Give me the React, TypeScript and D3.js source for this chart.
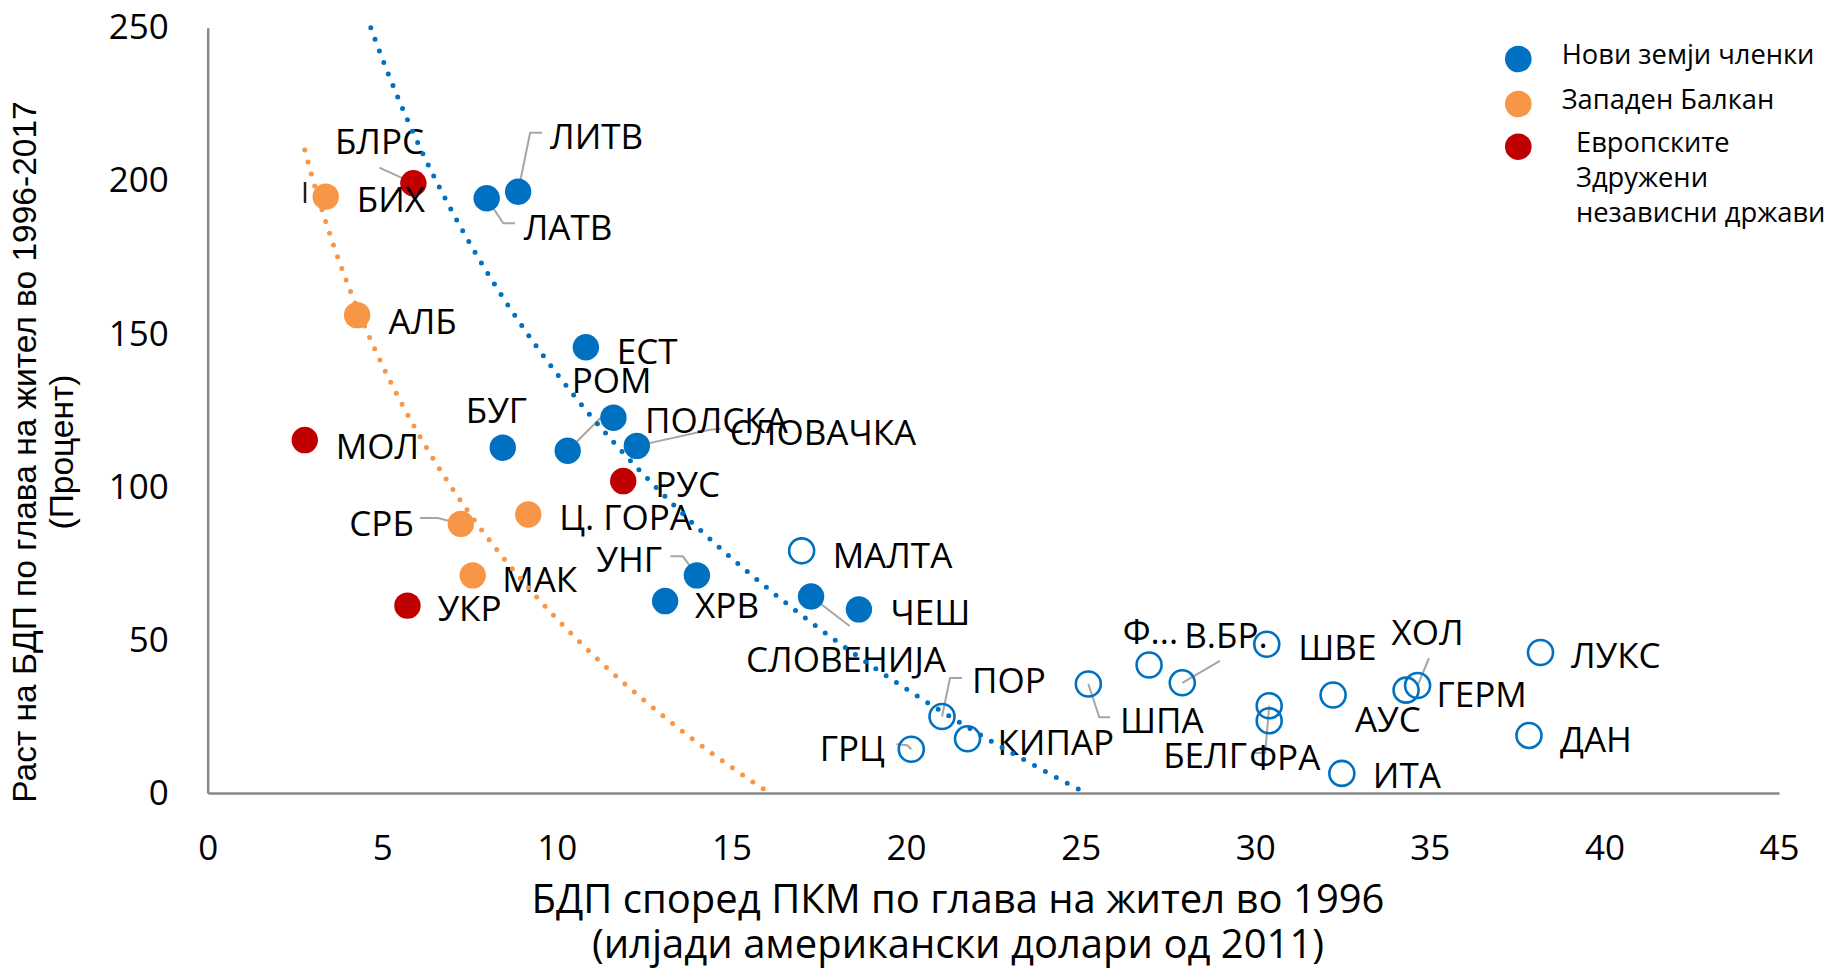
import React, { useEffect, useRef } from 'react';
import * as d3 from 'd3';

// values: [label, GDP p.c. 1996 (thous. USD 2011), growth 1996-2017 (%)]
const newMembers: [string, number, number][] = [
    ['ЛИТВ', 8.89, 196.4],
    ['ЛАТВ', 7.99, 194.3],
    ['ЕСТ', 10.83, 145.6],
    ['РОМ', 10.31, 111.8],
    ['ПОЛСКА', 11.62, 122.6],
    ['СЛОВАЧКА', 12.29, 113.4],
    ['БУГ', 8.45, 112.8],
    ['УНГ', 14.01, 71.1],
    ['ХРВ', 13.10, 62.7],
    ['СЛОВЕНИЈА', 17.28, 64.2],
    ['ЧЕШ', 18.65, 60.0],
];

const oldMembers: [string, number, number][] = [
    ['МАЛТА', 17.01, 79.1],
    ['ГРЦ', 20.15, 14.3],
    ['ПОР', 21.03, 25.0],
    ['КИПАР', 21.76, 17.7],
    ['ШПА', 25.22, 35.6],
    ['Ф...', 26.96, 41.8],
    ['В.БР.', 27.91, 36.0],
    ['ШВЕ', 30.33, 48.6],
    ['ФРА', 30.40, 28.5],
    ['БЕЛГ', 30.40, 23.6],
    ['АУС', 32.23, 32.0],
    ['ИТА', 32.48, 6.4],
    ['ГЕРМ', 34.32, 33.6],
    ['ХОЛ', 34.65, 35.1],
    ['ЛУКС', 38.17, 45.9],
    ['ДАН', 37.84, 18.8],
];

const westernBalkans: [string, number, number][] = [
    ['БИХ', 3.38, 194.8],
    ['АЛБ', 4.28, 156.1],
    ['СРБ', 7.25, 87.9],
    ['Ц. ГОРА', 9.18, 91.0],
    ['МАК', 7.59, 71.1],
];

const cis: [string, number, number][] = [
    ['БЛРС', 5.89, 199.2],
    ['МОЛ', 2.78, 115.3],
    ['РУС', 11.90, 101.9],
    ['УКР', 5.72, 61.2],
];

// logarithmic trendlines y = a - b * ln(x)
const trendNew = { a: 478.9, b: 148.5 };
const trendBalkans = { a: 332.3, b: 119.6, xStart: 2.78 };

const xTicks = [0, 5, 10, 15, 20, 25, 30, 35, 40, 45];
const yTicks = [0, 50, 100, 150, 200, 250];

const legendItems = [
    { lines: ['Нови земји членки'], color: '#0070C0' },
    { lines: ['Западен Балкан'], color: '#F79646' },
    { lines: ['Европските', 'Здружени', 'независни држави'], color: '#C00000' },
];

const xTitle = ['БДП според ПКМ по глава на жител во 1996', '(илјади американски долари од 2011)'];
const yTitle = ['Раст на БДП по глава на жител во 1996-2017', '(Процент)'];

// label placement, pixels relative to the marker
type Lab = { dx: number; dy: number; end?: boolean; leader?: [number, number][] };
const labelPos: Record<string, Lab> = {
    'ЛИТВ': { dx: 32, dy: -55, leader: [[0, 0], [12, -59], [24, -59]] },
    'ЛАТВ': { dx: 37, dy: 29, leader: [[0, 0], [16.6, 25], [28.3, 25]] },
    'ЕСТ': { dx: 31, dy: 4 },
    'РОМ': { dx: 4, dy: -70, leader: [[0, 0], [44, -44]] },
    'ПОЛСКА': { dx: 31.5, dy: 3 },
    'СЛОВАЧКА': { dx: 93, dy: -13.4, leader: [[0, 0], [73, -16], [84, -17]] },
    'БУГ': { dx: -37, dy: -37 },
    'УНГ': { dx: -35, dy: -16, end: true, leader: [[0, 0], [-14, -19], [-26.5, -19]] },
    'ХРВ': { dx: 30, dy: 4 },
    'СЛОВЕНИЈА': { dx: -65, dy: 62.5, leader: [[0, 0], [38.5, 29.5]] },
    'ЧЕШ': { dx: 31.6, dy: 3 },
    'МАЛТА': { dx: 31, dy: 5 },
    'ГРЦ': { dx: -26.5, dy: -1, end: true, leader: [[0, 0], [-4, -4], [-15, -5]] },
    'ПОР': { dx: 30, dy: -35.7, leader: [[0, 0], [8, -38.4], [20, -38.4]] },
    'КИПАР': { dx: 30, dy: 4 },
    'ШПА': { dx: 31.6, dy: 36.8, leader: [[0, 0], [11, 33.3], [21.7, 33.3]] },
    'Ф...': { dx: -26.4, dy: -34 },
    'В.БР.': { dx: 2, dy: -47, leader: [[0, 0], [37.7, -22]] },
    'ШВЕ': { dx: 31.5, dy: 3.3 },
    'ФРА': { dx: -20, dy: 51.7, leader: [[0, 0], [-4, 47.3], [-16, 47.3]] },
    'БЕЛГ': { dx: -106, dy: 35 },
    'АУС': { dx: 21.8, dy: 24 },
    'ИТА': { dx: 31, dy: 2.4 },
    'ГЕРМ': { dx: 30.5, dy: 4 },
    'ХОЛ': { dx: -26, dy: -53, leader: [[0, 0], [11.3, -27.3]] },
    'ЛУКС': { dx: 30.4, dy: 3.3 },
    'ДАН': { dx: 31, dy: 3.5 },
    'БИХ': { dx: 31, dy: 2.3 },
    'АЛБ': { dx: 31.4, dy: 6 },
    'СРБ': { dx: -47, dy: -1, end: true, leader: [[0, 0], [-23, -6], [-41, -6]] },
    'Ц. ГОРА': { dx: 31, dy: 3 },
    'МАК': { dx: 29.5, dy: 3.7 },
    'БЛРС': { dx: -78.4, dy: -41.5, leader: [[0, 0], [-34, -15.5]] },
    'МОЛ': { dx: 31, dy: 6 },
    'РУС': { dx: 32, dy: 3 },
    'УКР': { dx: 30, dy: 3 },
};

const W = 1830, H = 970;
const margin = { left: 207.7, right: 51, top: 27.7, bottom: 177 };
const FONT = "'Open Sans', 'Noto Sans', sans-serif";
const FS = 35;

export default function App() {
    const axisRef = useRef<SVGGElement>(null);

    const x = d3.scaleLinear().domain([0, 45]).range([margin.left, W - margin.right]);
    const y = d3.scaleLinear().domain([0, 250]).range([H - margin.bottom, margin.top]);

    useEffect(() => {
        const g = d3.select(axisRef.current);
        g.selectAll('*').remove();

        const xAxis = g.append('g')
            .attr('transform', 'translate(0,' + y(0) + ')')
            .call(d3.axisBottom(x).tickValues(xTicks).tickSize(0).tickPadding(42));
        const yAxis = g.append('g')
            .attr('transform', 'translate(' + x(0) + ',0)')
            .call(d3.axisLeft(y).tickValues(yTicks).tickSize(0).tickPadding(39));

        [xAxis, yAxis].forEach(a => {
            a.select('.domain').attr('stroke', '#898989').attr('stroke-width', 2.5);
            a.selectAll('text')
                .style('font-family', FONT)
                .style('font-size', FS + 'px')
                .attr('fill', '#000');
        });
    }, []);

    const logLine = (t: { a: number; b: number }, x0: number, x1: number) => {
        const pts = d3.range(x0, x1, 0.02).concat([x1]).map(v => [v, t.a - t.b * Math.log(v)] as [number, number]);
        return d3.line<[number, number]>().x(d => x(d[0])).y(d => y(d[1]))(pts) || '';
    };
    const blueStart = Math.exp((trendNew.a - 250) / trendNew.b);
    const blueEnd = Math.exp(trendNew.a / trendNew.b);
    const orangeEnd = Math.exp(trendBalkans.a / trendBalkans.b);

    const groups = [
        { data: newMembers, fill: '#0070C0', open: false },
        { data: oldMembers, fill: '#0070C0', open: true },
        { data: westernBalkans, fill: '#F79646', open: false },
        { data: cis, fill: '#C00000', open: false },
    ];

    const textProps = { fontFamily: FONT, fontSize: FS, fill: '#000' };

    return (
        <svg width={W} height={H} style={{ position: 'absolute', left: 0, top: 0, background: '#fff' }}>
            <g ref={axisRef} />

            {/* leader lines */}
            {groups.map(gr => gr.data.map(([name, vx, vy]) => {
                const lp = labelPos[name];
                if (!lp || !lp.leader) return null;
                const px = x(vx), py = y(vy);
                return (
                    <polyline key={'l' + name}
                        points={lp.leader.map(p => (px + p[0]) + ',' + (py + p[1])).join(' ')}
                        fill="none" stroke="#A6A6A6" strokeWidth={2} />
                );
            }))}
            {/* small stray mark left of БИХ */}
            <line x1={x(westernBalkans[0][1]) - 20.7} x2={x(westernBalkans[0][1]) - 20.7}
                y1={y(westernBalkans[0][2]) - 14.7} y2={y(westernBalkans[0][2]) + 6.3}
                stroke="#222" strokeWidth={2.5} />

            {/* markers */}
            {groups.map(gr => gr.data.map(([name, vx, vy]) => (
                gr.open
                    ? <circle key={'m' + name} cx={x(vx)} cy={y(vy)} r={12.5} fill="none" stroke={gr.fill} strokeWidth={2.6} />
                    : <circle key={'m' + name} cx={x(vx)} cy={y(vy)} r={13.2} fill={gr.fill} />
            )))}

            {/* labels */}
            {groups.map(gr => gr.data.map(([name, vx, vy]) => {
                const lp = labelPos[name] || { dx: 30, dy: 3 };
                return (
                    <text key={'t' + name} x={x(vx) + lp.dx} y={y(vy) + lp.dy} dy="0.36em"
                        textAnchor={lp.end ? 'end' : 'start'} {...textProps}>{name}</text>
                );
            }))}

            {/* trendlines */}
            <path d={logLine(trendNew, blueStart, blueEnd)} fill="none" stroke="#0070C0"
                strokeWidth={5} strokeLinecap="round" strokeDasharray="0 12.4" />
            <path d={logLine(trendBalkans, trendBalkans.xStart, orangeEnd)} fill="none" stroke="#F79646"
                strokeWidth={5} strokeLinecap="round" strokeDasharray="0 12.4" />

            {/* axis titles */}
            {xTitle.map((t, i) => (
                <text key={'xt' + i} x={958} y={899 + i * 45} dy="0.36em" textAnchor="middle"
                    fontFamily={FONT} fontSize={40} fill="#000">{t}</text>
            ))}
            {yTitle.map((t, i) => (
                <text key={'yt' + i} transform={'translate(' + (24 + i * 37) + ',452) rotate(-90)'} dy="0.36em"
                    textAnchor="middle" fontFamily="'Liberation Sans', Arial, sans-serif" fontSize={33.5} fill="#000">{t}</text>
            ))}

            {/* legend */}
            {legendItems.map((item, i) => {
                const cy = [59, 104, 146.7][i];
                return (
                    <g key={'lg' + i}>
                        <circle cx={1518.3} cy={cy} r={13.3} fill={item.color} />
                        {item.lines.map((ln, j) => (
                            <text key={j} x={item.lines.length > 1 ? 1576 : 1561.7}
                                y={(item.lines.length > 1 ? 142.5 : cy - 5) + j * 34.6} dy="0.36em"
                                fontFamily={FONT} fontSize={27.3} fill="#000">{ln}</text>
                        ))}
                    </g>
                );
            })}
        </svg>
    );
}
